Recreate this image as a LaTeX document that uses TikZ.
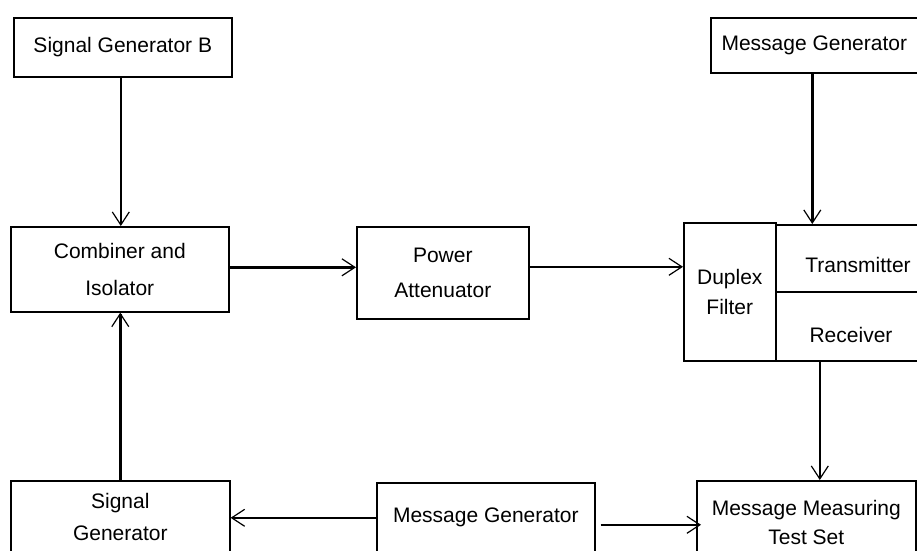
\documentclass[tikz,border=0pt]{standalone}
\usepackage{fontspec}
\setmainfont{Liberation Sans}
\usetikzlibrary{arrows.meta}
\begin{document}
\begin{tikzpicture}[x=1pt,y=-1pt,
  box/.style={draw,line width=1.6pt,inner sep=0pt,anchor=north west,align=center,font=\fontsize{21}{25}\selectfont},
  conn/.style={line width=2.6pt,-{Straight Barb[length=13pt,width=17pt,line width=1.2pt]}},
  lbl/.style={font=\fontsize{21}{25}\selectfont,inner sep=0pt}]
\useasboundingbox (0,0) rectangle (917,550);
\clip (0,0) rectangle (917,550);
% top row
\node[box,minimum width=218pt,minimum height=59pt] (sgb) at (13,17) {Signal Generator B};
\node[box,minimum width=207pt,minimum height=55pt] (mgt) at (710,17) {Message Generator};
% middle row
\node[box,minimum width=218pt,minimum height=85pt,font=\fontsize{21}{37}\selectfont] (comb) at (10,226) {Combiner and\\Isolator};
\node[box,minimum width=172pt,minimum height=92pt,font=\fontsize{21}{35}\selectfont] (pa) at (356,226) {Power\\Attenuator};
\node[box,minimum width=92pt,minimum height=138pt,font=\fontsize{21}{30}\selectfont] (dup) at (683,222) {Duplex\\Filter};
\node[box,minimum width=160pt,minimum height=67pt] (tx) at (775,224) {};
\node[box,minimum width=160pt,minimum height=69pt] (rx) at (775,291) {};
\node[lbl] (txt) at (858,265) {Transmitter};
\node[lbl] (rxt) at (851,335) {Receiver};
% bottom row
\node[box,minimum width=219pt,minimum height=72pt,font=\fontsize{21}{32}\selectfont] (sg) at (10,480) {Signal\\Generator};
\node[box,minimum width=218pt,minimum height=70pt] (mgb) at (376,482) {Message Generator};
\node[box,minimum width=219pt,minimum height=84pt,font=\fontsize{21}{29}\selectfont] (mmts) at (696,480) {Message Measuring\\Test Set};
% connectors
\draw[conn] ([xshift=-2pt]sgb.south) -- ([xshift=-2pt]sgb.south |- comb.north);
\draw[conn] ([yshift=2pt]comb.east) -- ([yshift=2pt]comb.east -| pa.west);
\draw[conn] ([yshift=6pt]pa.east) -- ([yshift=6pt]pa.east -| dup.west);
\draw[conn] ([xshift=-2pt]mgt.south) -- ([xshift=-2pt]mgt.south |- tx.north);
\draw[conn] ([xshift=-36pt]rx.south) -- ([xshift=-36pt]rx.south |- mmts.north);
\draw[conn] (sg.north) -- (sg.north |- comb.south);
\draw[conn] (mgb.west) -- (mgb.west -| sg.east);
\draw[conn] ([shift={(5pt,-7pt)}]mgb.east) -- ([shift={(5pt,-7pt)}]mgb.east -| mmts.west);
\end{tikzpicture}
\end{document}
